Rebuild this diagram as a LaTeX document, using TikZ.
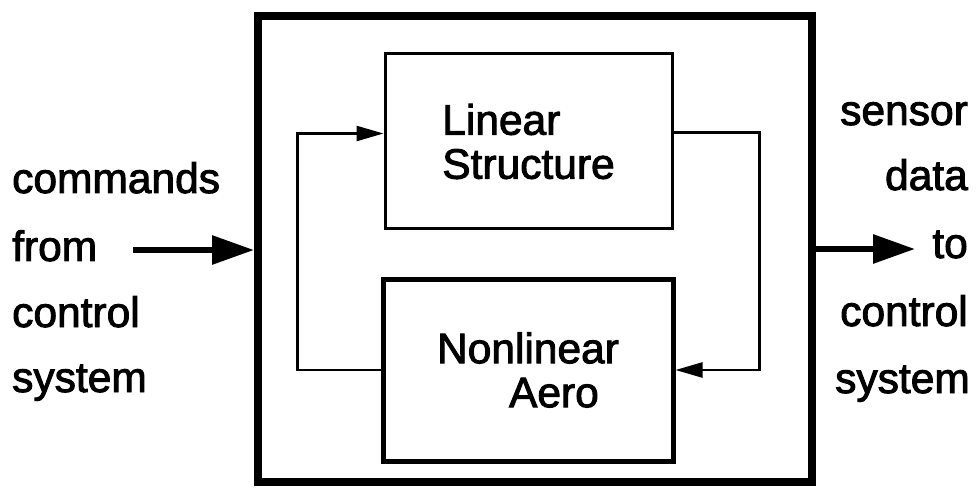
\documentclass[tikz,border=0pt]{standalone}
\usepackage{fontspec}
\setmainfont{Liberation Sans}
\newfontfamily\scanfont[FakeBold=2.2]{Liberation Sans}
\usetikzlibrary{arrows.meta}

\begin{document}
\begin{tikzpicture}[x=1pt, y=-1pt,
	txt/.style={font=\fontsize{42.5}{44}\selectfont\scanfont, inner sep=0pt},
	block/.style={draw, txt, align=left},
	link/.style={line width=2.5pt, -{Triangle[length=27pt, width=15pt]}},
	fat/.style={line width=6pt, -{Triangle[length=42pt, width=28pt]}}]
	\useasboundingbox (0,0) rectangle (980,489);

	% Nodes
	\node[draw, line width=8pt, minimum width=554pt, minimum height=466pt] (plant) at (535,249) {};
	\node[block, line width=3pt, minimum width=287pt, minimum height=175pt] (lin) at (528.5,141.5) {Linear\\Structure};
	\node[block, line width=5pt, minimum width=290pt, minimum height=182pt] (aero) at (528,370) {Nonlinear\\\hspace*{72pt}Aero};

	\node[txt, anchor=base west] (cmd1) at (12,193) {commands};
	\node[txt, anchor=base west] (cmd2) at (12,261) {from};
	\node[txt, anchor=base west] (cmd3) at (12,327) {control};
	\node[txt, anchor=base west] (cmd4) at (12,392) {system};

	\node[txt, anchor=base east] (sen1) at (968,125) {sensor};
	\node[txt, anchor=base east] (sen2) at (968,190) {data};
	\node[txt, anchor=base east] (sen3) at (968,258) {to};
	\node[txt, anchor=base east] (sen4) at (968,326) {control};
	\node[txt, anchor=base east] (sen5) at (970,393) {system};

	\coordinate (cmdtail) at (133,250);
	\coordinate (senhead) at (915,249);

	% Edges
	\draw[link] ([yshift=9pt]lin.east) -- ++(86,0) |- (aero.east);
	\draw[link] (aero.west) -- ++(-83,0) |- ([yshift=8pt]lin.west);
	\draw[fat] (cmdtail) -- (cmdtail -| plant.west);
	\draw[fat] (plant.east) -- (senhead);

\end{tikzpicture}
\end{document}
